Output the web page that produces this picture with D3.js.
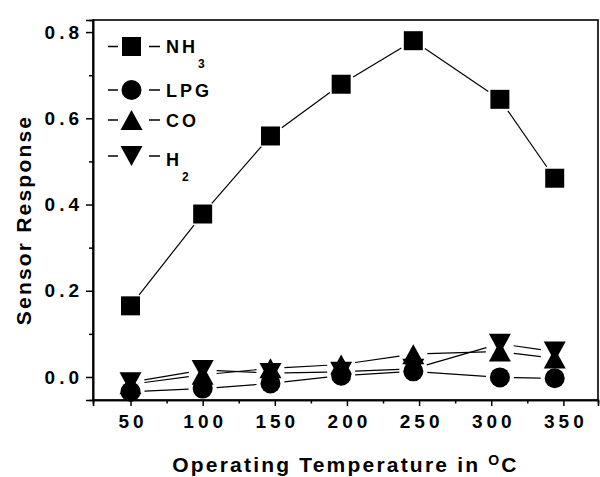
<!DOCTYPE html>
<html>
<head>
<meta charset="utf-8">
<script src="https://cdn.jsdelivr.net/npm/d3@7"></script>
<style>
html,body{margin:0;padding:0;background:#fff;}
svg{display:block;}
text{font-family:"Liberation Sans",Arial,sans-serif;font-weight:bold;fill:#000;}
</style>
</head>
<body>
<svg id="chart" width="600" height="477"></svg>
<script>
// ---- data ----
const temps = [50, 100, 147, 196, 246, 306, 344];
const nh3 = [0.165, 0.378, 0.559, 0.679, 0.780, 0.644, 0.461];
const lpg = [-0.034, -0.027, -0.015, 0.003, 0.013, -0.001, -0.003];
const co  = [-0.017, 0.005, 0.020, 0.029, 0.053, 0.059, 0.043];
const h2  = [-0.012, 0.016, 0.009, 0.012, 0.019, 0.077, 0.059];
const seriesNames = ["NH", "LPG", "CO", "H"];
const seriesSubs = ["3", "", "", "2"];
const seriesShapes = ["square", "circle", "triangle", "triangleDown"];
const xTicks = [50, 100, 150, 200, 250, 300, 350];
const xMinorTicks = [75, 125, 175, 225, 275, 325];
const yTicks = [0.0, 0.2, 0.4, 0.6, 0.8];
const yMinorTicks = [0.1, 0.3, 0.5, 0.7];
const xTitle = "Operating Temperature in ";
const yTitle = "Sensor Response";

// ---- layout ----
const L = 93, R = 598, T = 20, B = 400;
const svg = d3.select("#chart");
const x = d3.scaleLinear().domain([24, 374]).range([L, R]);
const y = d3.scaleLinear().domain([-0.0534, 0.828]).range([B, T]);

function shapePath(shape) {
  switch (shape) {
    case "square": return "M-9.5,-9.5H9.5V9.5H-9.5Z";
    case "circle": return d3.arc()({innerRadius:0, outerRadius:10, startAngle:0, endAngle:2*Math.PI});
    case "triangle": return "M0,-10L11,10L-11,10Z";
    case "triangleDown": return "M0,10L11,-10L-11,-10Z";
  }
}

// frame
svg.append("rect").attr("x", L).attr("y", T).attr("width", R - L).attr("height", B - T)
  .attr("fill", "none").attr("stroke", "#000").attr("stroke-width", 1.6);

// axes
const xAxis = svg.append("g").attr("transform", `translate(0,${B})`)
  .call(d3.axisBottom(x).tickValues(xTicks).tickSize(6).tickPadding(9).tickFormat(d3.format("d")));
const xMinor = svg.append("g").attr("transform", `translate(0,${B})`)
  .call(d3.axisBottom(x).tickValues(xMinorTicks).tickSize(3.5).tickFormat(""));
const yAxis = svg.append("g").attr("transform", `translate(${L},0)`)
  .call(d3.axisLeft(y).tickValues(yTicks).tickSize(7).tickPadding(10).tickFormat(d3.format(".1f")));
const yMinor = svg.append("g").attr("transform", `translate(${L},0)`)
  .call(d3.axisLeft(y).tickValues(yMinorTicks).tickSize(4).tickFormat(""));
[xAxis, xMinor, yAxis, yMinor].forEach(g => {
  g.select(".domain").attr("stroke", "#000").attr("stroke-width", 1.6);
  g.selectAll(".tick line").attr("stroke", "#000").attr("stroke-width", 1.5);
});
xAxis.selectAll(".tick text").attr("font-size", 19).attr("font-family", "Liberation Sans, Arial, sans-serif")
  .attr("font-weight", "bold").style("letter-spacing", "4px").attr("dx", "2px");
yAxis.selectAll(".tick text").attr("font-size", 19).attr("font-family", "Liberation Sans, Arial, sans-serif")
  .attr("font-weight", "bold").style("letter-spacing", "4px").attr("dx", "7px");

// axis titles
const xt = svg.append("text").attr("x", (L + R) / 2).attr("y", 472).attr("text-anchor", "middle")
  .attr("font-size", 21).style("letter-spacing", "2.2px");
xt.append("tspan").text(xTitle);
xt.append("tspan").attr("font-size", 14).attr("dy", -7).text("O");
xt.append("tspan").attr("dy", 7).text("C");

svg.append("text").attr("transform", "translate(31,220) rotate(-90)").attr("text-anchor", "middle")
  .attr("font-size", 21).style("letter-spacing", "2.2px").text(yTitle);

// data series
const allSeries = [nh3, lpg, co, h2];
const gap = 14;
allSeries.forEach((vals, si) => {
  const pts = temps.map((t, i) => [x(t), y(vals[i])]);
  const g = svg.append("g");
  for (let i = 0; i < pts.length - 1; i++) {
    const [x1, y1] = pts[i], [x2, y2] = pts[i + 1];
    const dx = x2 - x1, dy = y2 - y1, len = Math.hypot(dx, dy);
    if (len <= 2 * gap) continue;
    const ux = dx / len, uy = dy / len;
    g.append("line")
      .attr("x1", x1 + ux * gap).attr("y1", y1 + uy * gap)
      .attr("x2", x2 - ux * gap).attr("y2", y2 - uy * gap)
      .attr("stroke", "#000").attr("stroke-width", 1.2);
  }
  g.selectAll("path.m").data(pts).enter().append("path").attr("class", "m")
    .attr("transform", d => `translate(${d[0]},${d[1]})`)
    .attr("d", shapePath(seriesShapes[si])).attr("fill", "#000");
});

// legend
const legendY = [46.5, 90, 120, 156];
const lg = svg.append("g");
seriesNames.forEach((name, i) => {
  const yy = legendY[i];
  lg.append("line").attr("x1", 108).attr("x2", 118).attr("y1", yy).attr("y2", yy).attr("stroke", "#000").attr("stroke-width", 1.5);
  lg.append("line").attr("x1", 149).attr("x2", 160).attr("y1", yy).attr("y2", yy).attr("stroke", "#000").attr("stroke-width", 1.5);
  lg.append("path").attr("transform", `translate(131.5,${yy})`).attr("d", shapePath(seriesShapes[i])).attr("fill", "#000");
  const tx = lg.append("text").attr("x", 166).attr("y", yy + 6.7 + (i === 3 ? 3.5 : 0))
    .attr("font-size", 18).style("letter-spacing", "3px");
  tx.append("tspan").text(name);
  if (seriesSubs[i]) tx.append("tspan").attr("font-size", 12).attr("dy", 15).text(seriesSubs[i]);
});
</script>
</body>
</html>
